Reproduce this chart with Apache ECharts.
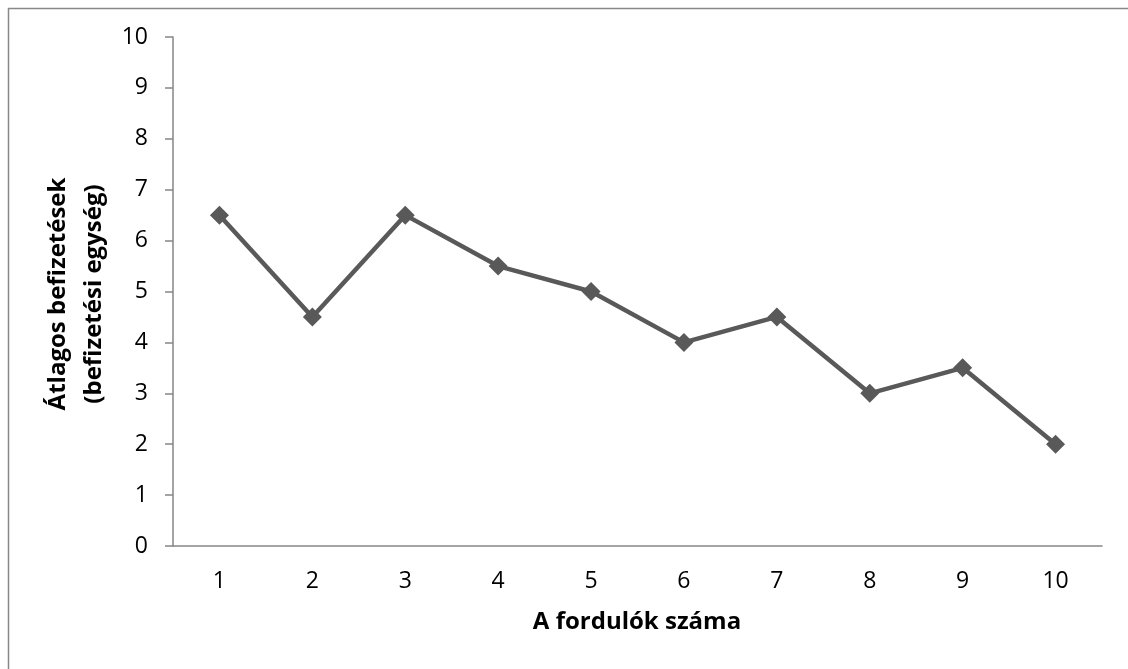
<!DOCTYPE html>
<html>
<head>
<meta charset="utf-8">
<script src="https://cdn.jsdelivr.net/npm/echarts@6/dist/echarts.min.js"></script>
<style>
html,body{margin:0;padding:0;background:#fff;}
#c{width:1128px;height:669px;}
</style>
</head>
<body>
<div id="c"></div>
<script>
const categories = ['1','2','3','4','5','6','7','8','9','10'];
const values = [6.5, 4.5, 6.5, 5.5, 5, 4, 4.5, 3, 3.5, 2];
const xTitle = 'A fordulók száma';
const yTitle = 'Átlagos befizetések\n(befizetési egység)';

const FONT = '"Open Sans", "Noto Sans", sans-serif';
const chart = echarts.init(document.getElementById('c'), null, {renderer: 'canvas'});
chart.setOption({
  animation: false,
  backgroundColor: '#fff',
  grid: {left: 173, top: 37, right: 26, bottom: 123, containLabel: false},
  xAxis: {
    type: 'category',
    data: categories,
    boundaryGap: true,
    axisLine: {lineStyle: {color: '#868686', width: 1.5}},
    axisTick: {show: false},
    axisLabel: {color: '#000', fontFamily: FONT, fontSize: 23, margin: 24}
  },
  yAxis: {
    type: 'value',
    min: 0, max: 10, interval: 1,
    axisLine: {show: true, lineStyle: {color: '#868686', width: 1.5}},
    axisTick: {show: true, length: 8, lineStyle: {color: '#868686', width: 1.5}},
    splitLine: {show: false},
    axisLabel: {color: '#000', fontFamily: FONT, fontSize: 23, margin: 25}
  },
  graphic: [
    {type: 'rect', shape: {x: 8.5, y: 8.5, width: 1140, height: 680}, style: {fill: 'none', stroke: '#888', lineWidth: 1.5}, silent: true},
    {type: 'text', x: 637, y: 622, style: {text: xTitle, font: 'bold 24px ' + FONT, fill: '#000', textAlign: 'center', textVerticalAlign: 'middle'}},
    {type: 'text', x: 76, y: 294, rotation: Math.PI / 2, style: {text: yTitle, font: 'bold 24px ' + FONT, lineHeight: 36, fill: '#000', textAlign: 'center', textVerticalAlign: 'middle'}}
  ],
  series: [{
    type: 'line',
    data: values,
    symbol: 'diamond',
    symbolSize: 19,
    lineStyle: {color: '#595959', width: 4.5},
    itemStyle: {color: '#595959'}
  }]
});
</script>
</body>
</html>
